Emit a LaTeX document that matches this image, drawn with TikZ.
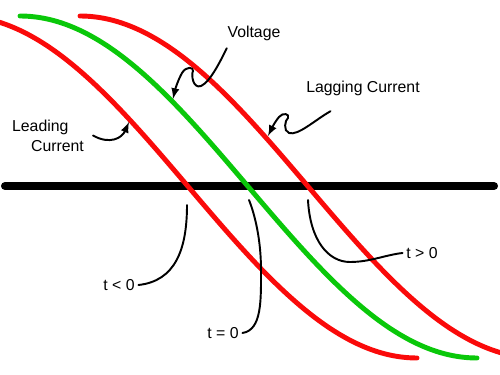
\documentclass[tikz,border=0pt]{standalone}
\usepackage{fontspec}
\setmainfont{Liberation Sans}
\definecolor{wavered}{RGB}{250,10,10}
\definecolor{wavegreen}{RGB}{10,200,10}

\begin{document}
\begin{tikzpicture}[x=0.02cm,y=-0.02cm,
		wave/.style={line width=2.8pt,line cap=round},
		leader/.style={line width=1.1pt,line cap=round},
		lbl/.style={font=\fontsize{9}{11.5}\selectfont,inner sep=2pt}]
		\useasboundingbox (0,0) rectangle (500,375);
		\draw [line width=4.6pt,line cap=round] (5,186) -- (494,186);
		\begin{scope}
			\clip (0,0) rectangle (500,375);
			\foreach \S/\C in {-60/wavered,60/wavered,0/wavegreen} {
				\draw [wave,\C] plot [domain=20+\S:477+\S,samples=80,smooth] (\x,{187-171*cos((\x-20-\S)/457*180)});
			}
		\end{scope}
		\node [lbl] (volt) at (254,33) {Voltage};
		\node [lbl] (lag) at (363,88) {Lagging Current};
		\node [lbl,align=left] (lead) at (48,135.5) {Leading\\\hspace*{1.2em}Current};
		\node [lbl] (tneg) at (119,285) {t < 0};
		\node [lbl] (tzero) at (223,333) {t = 0};
		\node [lbl] (tpos) at (422,253) {t > 0};
		\coordinate (ongreen) at (173,99);
		\coordinate (onlag) at (268,136);
		\coordinate (onlead) at (129,122);
		\coordinate (negcross) at (187,205);
		\coordinate (zerocross) at (249,200);
		\coordinate (poscross) at (308,200);
		\draw [leader,-latex] ([shift={(3,4)}]volt.south west) .. controls (220,62) and (210,82) .. (201,86) .. controls (193,89) and (191,75) .. (193,71) .. controls (194,67) and (186,66) .. (182,73) .. controls (178,80) and (175,90) .. (ongreen);
		\draw [leader,-latex] ([shift={(28,12)}]lag.south west) .. controls (315,120) and (298,136) .. (289,133) .. controls (283,131) and (285,120) .. (288,118) .. controls (290,114) and (283,112) .. (279,117) .. controls (274,123) and (271,130) .. (onlag);
		\draw [leader,-latex] ([xshift=3pt]lead.east) .. controls (110,145) and (122,138) .. (onlead);
		\draw [leader] (tneg.east) .. controls (175,281) and (187,250) .. (negcross);
		\draw [leader] (tzero.east) .. controls (262,330) and (261,300) .. (261,270) .. controls (261,240) and (255,215) .. (zerocross);
		\draw [leader] (tpos.west) .. controls (385,255) and (370,262) .. (350,262) .. controls (328,262) and (310,240) .. (poscross);
	\end{tikzpicture}
\end{document}
